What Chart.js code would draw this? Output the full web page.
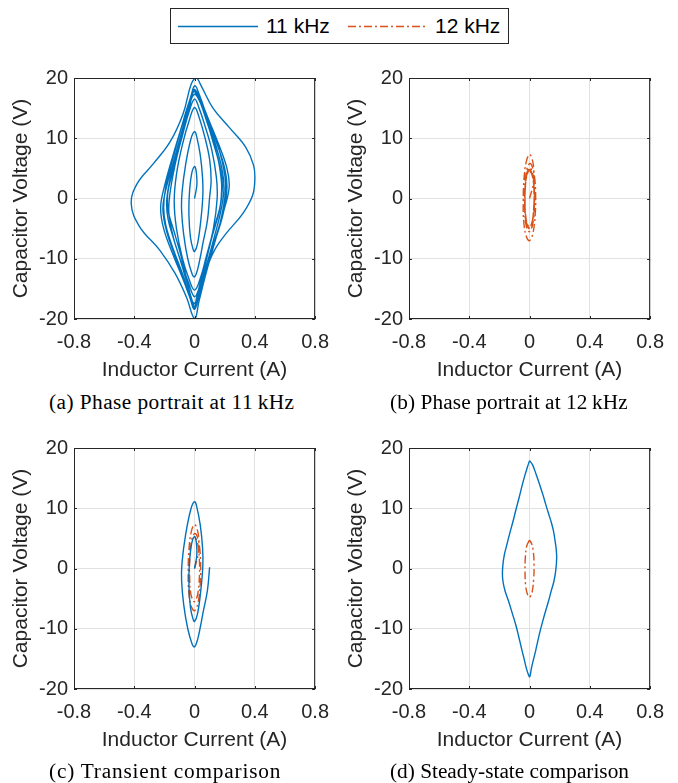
<!DOCTYPE html>
<html>
<head>
<meta charset="utf-8">
<script src="https://cdn.jsdelivr.net/npm/chart.js@4.4.0/dist/chart.umd.min.js"></script>
<style>
  body { margin: 0; width: 678px; height: 783px; background: #fff; position: relative; overflow: hidden; }
  .panel { position: absolute; width: 340px; height: 330px; }
  .cap { position: absolute; font-family: "Liberation Serif", "Times New Roman", serif; font-size: 21.3px; line-height: 24px; color: #000; white-space: nowrap; }
  #legend { position: absolute; left: 170px; top: 8px; width: 337px; height: 34px; border: 1px solid #262626; background: #fff;
            font-family: "Liberation Sans", Arial, sans-serif; font-size: 21px; color: #000; }
  #legend span { position: absolute; top: 5px; line-height: 24px; }
  #legend svg { position: absolute; left: 0; top: 0; }
</style>
</head>
<body>

<div id="legend">
  <svg width="337" height="34">
    <line x1="7" y1="17.5" x2="87" y2="17.5" stroke="#0072BD" stroke-width="1.3"/>
    <line x1="177" y1="17.5" x2="257" y2="17.5" stroke="#D95319" stroke-width="1.3" stroke-dasharray="8 3 2 3"/>
  </svg>
  <span style="left:95px">11 kHz</span>
  <span style="left:264px">12 kHz</span>
</div>

<div class="panel" style="left:0;top:60px"><canvas id="chart-a" width="340" height="330"></canvas></div>
<div class="panel" style="left:335px;top:60px"><canvas id="chart-b" width="340" height="330"></canvas></div>
<div class="panel" style="left:0;top:430px"><canvas id="chart-c" width="340" height="330"></canvas></div>
<div class="panel" style="left:335px;top:430px"><canvas id="chart-d" width="340" height="330"></canvas></div>

<div class="cap" style="left:49px;top:390px;letter-spacing:0.45px">(a) Phase portrait at 11&#8201;kHz</div>
<div class="cap" style="left:390px;top:390px;letter-spacing:0.1px">(b) Phase portrait at 12&#8201;kHz</div>
<div class="cap" style="left:49px;top:759px;letter-spacing:0.8px">(c) Transient comparison</div>
<div class="cap" style="left:390px;top:759px">(d) Steady-state comparison</div>

<script>
// axes
const xTicks = [-0.8, -0.4, 0, 0.4, 0.8];
const yTicks = [-20, -10, 0, 10, 20];

// 11 kHz: start-up from the origin (shown in c), [current A, voltage V]
const trans11 = [
  [0, 0], [0.015, 2.2], [0.012, 4.3], [0, 5.3],
  [-0.02, 4], [-0.035, 0.5], [-0.037, -3], [-0.027, -6.5], [-0.01, -8.4], [0, -8.8],
  [0.02, -7.5], [0.042, -3.5], [0.055, 0.5], [0.053, 3.5], [0.038, 7.2], [0.015, 10.2], [0, 11.1],
  [-0.025, 9.8], [-0.06, 5.5], [-0.083, 1], [-0.086, -2], [-0.072, -6], [-0.045, -10], [-0.015, -12.6], [0, -13],
  [0.02, -11.8], [0.04, -9.5], [0.055, -7.5], [0.085, -3.7], [0.1, 0.2]
];

// 11 kHz: rest of the run (a)
const settle11 = [
  [0.11, 3], [0.1, 6.5], [0.07, 10], [0.03, 13.5], [0, 15.1],
  [-0.035, 13], [-0.08, 9], [-0.12, 4], [-0.135, -0.5], [-0.12, -5], [-0.08, -10], [-0.035, -13.5], [0, -15.2],
  [0.035, -13.5], [0.08, -9.5], [0.125, -5], [0.15, 0], [0.145, 3.5], [0.115, 8], [0.07, 12], [0.03, 15], [0, 16.5],
  [-0.035, 14.5], [-0.08, 10.5], [-0.13, 5.5], [-0.165, 0.5], [-0.17, -2.5], [-0.14, -6.5], [-0.09, -10.5], [-0.04, -14], [0, -16.3],
  [0.035, -14.5], [0.08, -11], [0.13, -6.5], [0.175, -2], [0.195, 1.5], [0.185, 4.5], [0.145, 8.5], [0.09, 12.5], [0.04, 15.8], [0, 17.3],
  [-0.035, 15.5], [-0.08, 11.5], [-0.135, 6.5], [-0.19, 1.5], [-0.21, -1.8], [-0.185, -5.5], [-0.13, -9.5], [-0.07, -13.5], [-0.025, -16.5], [0, -17.4],
  [0.03, -15.5], [0.08, -11.5], [0.14, -6.5], [0.2, -1.5], [0.23, 2], [0.215, 5], [0.16, 9], [0.095, 13], [0.04, 16.3], [0, 17.8],
  [-0.035, 16], [-0.085, 12], [-0.145, 7], [-0.2, 2], [-0.225, -1.5], [-0.205, -5], [-0.14, -9.5], [-0.075, -13.5], [-0.025, -16.8], [0, -18.2],
  // wide excursion
  [0.033, -15.8], [0.077, -11.9], [0.132, -8.6], [0.21, -5.8], [0.32, -2.5], [0.385, 0.5], [0.4, 3.1], [0.392, 5.5],
  [0.34, 8.5], [0.23, 11.8], [0.12, 15.1], [0.044, 18.7], [0.012, 20],
  [-0.022, 19], [-0.077, 14], [-0.165, 9.3], [-0.276, 5.7], [-0.38, 2.5], [-0.42, -0.9], [-0.364, -4.7],
  [-0.23, -8.6], [-0.13, -12.4], [-0.055, -16.3], [0, -19.9],
  [0.03, -17], [0.07, -13], [0.12, -8.5], [0.17, -4], [0.2, 0], [0.205, 3], [0.17, 7.5], [0.115, 11.5], [0.05, 15.5], [0, 18.1],
  [-0.036, 16], [-0.085, 12], [-0.14, 7], [-0.19, 2], [-0.205, -1.5], [-0.19, -4.5], [-0.14, -8.5], [-0.08, -12.5], [-0.03, -16.5], [0, -18.4],
  [0.03, -16], [0.07, -12.5], [0.13, -7.5], [0.19, -2.5], [0.215, 1.8], [0.2, 5], [0.15, 9], [0.09, 13], [0.035, 17], [0, 18.7],
  [-0.035, 15.5], [-0.075, 11.5], [-0.12, 7.2], [-0.16, 3.5], [-0.185, -0.5], [-0.175, -3.5], [-0.135, -7], [-0.085, -11], [-0.045, -14.5], [-0.015, -17], [0, -18],
  [0.015, -16.8], [0.045, -13.5], [0.08, -10], [0.12, -6], [0.165, -2], [0.185, 1.8], [0.175, 4.5], [0.13, 9], [0.085, 12.5], [0.04, 15.8], [0, 18],
  [-0.033, 15.3], [-0.07, 11.7], [-0.11, 7.8], [-0.15, 4], [-0.176, 1.2], [-0.18, -1], [-0.17, -2.65], [-0.137, -5.4], [-0.092, -9.3], [-0.055, -13.1], [-0.022, -16.5], [0, -18],
  [0.013, -16.5], [0.04, -13.7], [0.07, -10.4], [0.106, -7.1], [0.143, -3.8], [0.172, -1], [0.18, 1.8], [0.176, 3.4], [0.159, 6.2], [0.128, 8.95], [0.088, 12.3], [0.044, 15.6], [0, 17.9]
];

// 11 kHz: one steady-state cycle (d)
const steady11 = [
  [0, 17.9], [-0.012, 17], [-0.033, 15.3], [-0.052, 13.5], [-0.07, 11.7], [-0.09, 9.8], [-0.11, 7.8], [-0.132, 5.8],
  [-0.15, 4], [-0.167, 2.3], [-0.177, 0.6], [-0.18, -1], [-0.176, -2.2], [-0.163, -3.7], [-0.137, -5.6], [-0.115, -7.4],
  [-0.092, -9.3], [-0.073, -11.2], [-0.055, -13.1], [-0.038, -14.8], [-0.022, -16.5], [-0.008, -17.6], [0, -18],
  [0.006, -17.5], [0.013, -16.5], [0.026, -15.1], [0.04, -13.7], [0.055, -12], [0.07, -10.4], [0.088, -8.7], [0.106, -7.1],
  [0.126, -5.4], [0.143, -3.8], [0.161, -2.2], [0.174, -0.3], [0.18, 1.8], [0.176, 3.4], [0.168, 4.8], [0.159, 6.2],
  [0.145, 7.6], [0.128, 8.95], [0.108, 10.6], [0.088, 12.3], [0.066, 14], [0.044, 15.6], [0.02, 17.2], [0, 17.9]
];

// 12 kHz: start-up (c)
const trans12 = [
  [0, 0], [0.025, 2.5], [0.028, 5], [0.014, 6.8], [0, 7.3],
  [-0.02, 6.3], [-0.036, 3.5], [-0.042, -0.5], [-0.038, -4], [-0.02, -6.4], [0, -7],
  [0.022, -5.8], [0.038, -2.5], [0.04, 1], [0.032, 3.8], [0.014, 5.5], [0, 5.8],
  [-0.02, 4.6], [-0.032, 1.5], [-0.032, -2], [-0.024, -4.3], [-0.008, -5.4], [0, -5.5],
  [0.02, -4.4], [0.032, -1.5], [0.032, 1.5], [0.022, 4], [0.008, 5], [0, 5.1]
];

// 12 kHz: rest of the run (b)
const settle12 = [
  [-0.018, 4.2], [-0.03, 1.8], [-0.032, -1], [-0.026, -3.5], [-0.012, -4.7], [0, -5],
  [0.018, -4], [0.03, -1.5], [0.031, 1], [0.025, 3.2], [0.012, 4.5], [0, 4.9],
  [-0.018, 4], [-0.029, 1.5], [-0.03, -1.5], [-0.024, -3.6], [-0.01, -4.7], [0, -4.85],
  [0.017, -3.9], [0.028, -1.6], [0.03, 0.8], [0.025, 3], [0.013, 4.3], [0, 4.75],
  [-0.018, 3.8], [-0.028, 1.8], [-0.03, -0.5], [-0.026, -2.8], [-0.015, -4.2], [0, -4.75],
  [0.017, -3.9], [0.027, -1.8], [0.03, 0.5], [0.025, 2.8], [0.014, 4.1], [0, 4.7]
];

// 12 kHz: one steady-state cycle (d)
const steady12 = [
  [0, 4.7], [-0.018, 3.8], [-0.028, 1.8], [-0.03, -0.5], [-0.026, -2.8], [-0.015, -4.2], [0, -4.75],
  [0.017, -3.9], [0.027, -1.8], [0.03, 0.5], [0.025, 2.8], [0.014, 4.1], [0, 4.7]
];

const BLUE = '#0072BD';
const ORANGE = '#D95319';
const INK = '#262626';

Chart.defaults.font.family = '"Liberation Sans", Arial, Helvetica, sans-serif';
Chart.defaults.color = INK;

const toXY = pts => pts.map(p => ({ x: p[0], y: p[1] }));

function line11(pts) {
  return { data: toXY(pts), showLine: true, borderColor: BLUE, borderWidth: 1.4, pointRadius: 0, tension: 0.4, fill: false };
}
function line12(pts) {
  return { data: toXY(pts), showLine: true, borderColor: ORANGE, borderWidth: 1.4, borderDash: [8, 3, 2, 3],
           pointRadius: 0, tension: 0.4, fill: false };
}

// MATLAB-like box with inward ticks on all four sides
const boxPlugin = {
  id: 'box',
  afterDraw(chart) {
    const { ctx, chartArea: a, scales: { x, y } } = chart;
    ctx.save();
    ctx.strokeStyle = INK;
    ctx.lineWidth = 1;
    ctx.strokeRect(a.left + 0.5, a.top + 0.5, a.right - a.left - 1, a.bottom - a.top - 1);
    ctx.beginPath();
    xTicks.forEach(v => {
      const px = Math.round(x.getPixelForValue(v)) + 0.5;
      ctx.moveTo(px, a.bottom); ctx.lineTo(px, a.bottom - 3);
      ctx.moveTo(px, a.top); ctx.lineTo(px, a.top + 3);
    });
    yTicks.forEach(v => {
      const py = Math.round(y.getPixelForValue(v)) + 0.5;
      ctx.moveTo(a.left, py); ctx.lineTo(a.left + 3, py);
      ctx.moveTo(a.right, py); ctx.lineTo(a.right - 3, py);
    });
    ctx.stroke();
    ctx.restore();
  }
};

function makeChart(id, datasets) {
  return new Chart(document.getElementById(id), {
    type: 'scatter',
    data: { datasets },
    options: {
      responsive: false,
      animation: false,
      devicePixelRatio: 1,
      layout: { padding: { left: 9, right: 24, top: 17, bottom: 7 } },
      plugins: { legend: { display: false }, tooltip: { enabled: false } },
      scales: {
        x: {
          type: 'linear', min: -0.8, max: 0.8,
          afterBuildTicks: s => { s.ticks = xTicks.map(v => ({ value: v })); },
          afterFit: s => { s.height = 64; },
          ticks: { font: { size: 20 }, padding: 11, color: INK, maxRotation: 0,
                   callback: v => (v === 0 ? '0' : v.toFixed(1)) },
          grid: { color: '#e2e2e2', drawTicks: false },
          border: { display: false },
          title: { display: true, text: 'Inductor Current (A)', font: { size: 21 }, color: INK, padding: 0 }
        },
        y: {
          type: 'linear', min: -20, max: 20,
          afterBuildTicks: s => { s.ticks = yTicks.map(v => ({ value: v })); },
          afterFit: s => { s.width = 65; },
          ticks: { font: { size: 20 }, padding: 6, color: INK },
          grid: { color: '#e2e2e2', drawTicks: false },
          border: { display: false },
          title: { display: true, text: 'Capacitor Voltage (V)', font: { size: 21 }, color: INK, padding: 0 }
        }
      }
    },
    plugins: [boxPlugin]
  });
}

makeChart('chart-a', [line11(trans11.concat(settle11))]);
makeChart('chart-b', [line12(trans12.concat(settle12))]);
makeChart('chart-c', [line11(trans11), line12(trans12)]);
makeChart('chart-d', [line11(steady11), line12(steady12)]);
</script>
</body>
</html>
